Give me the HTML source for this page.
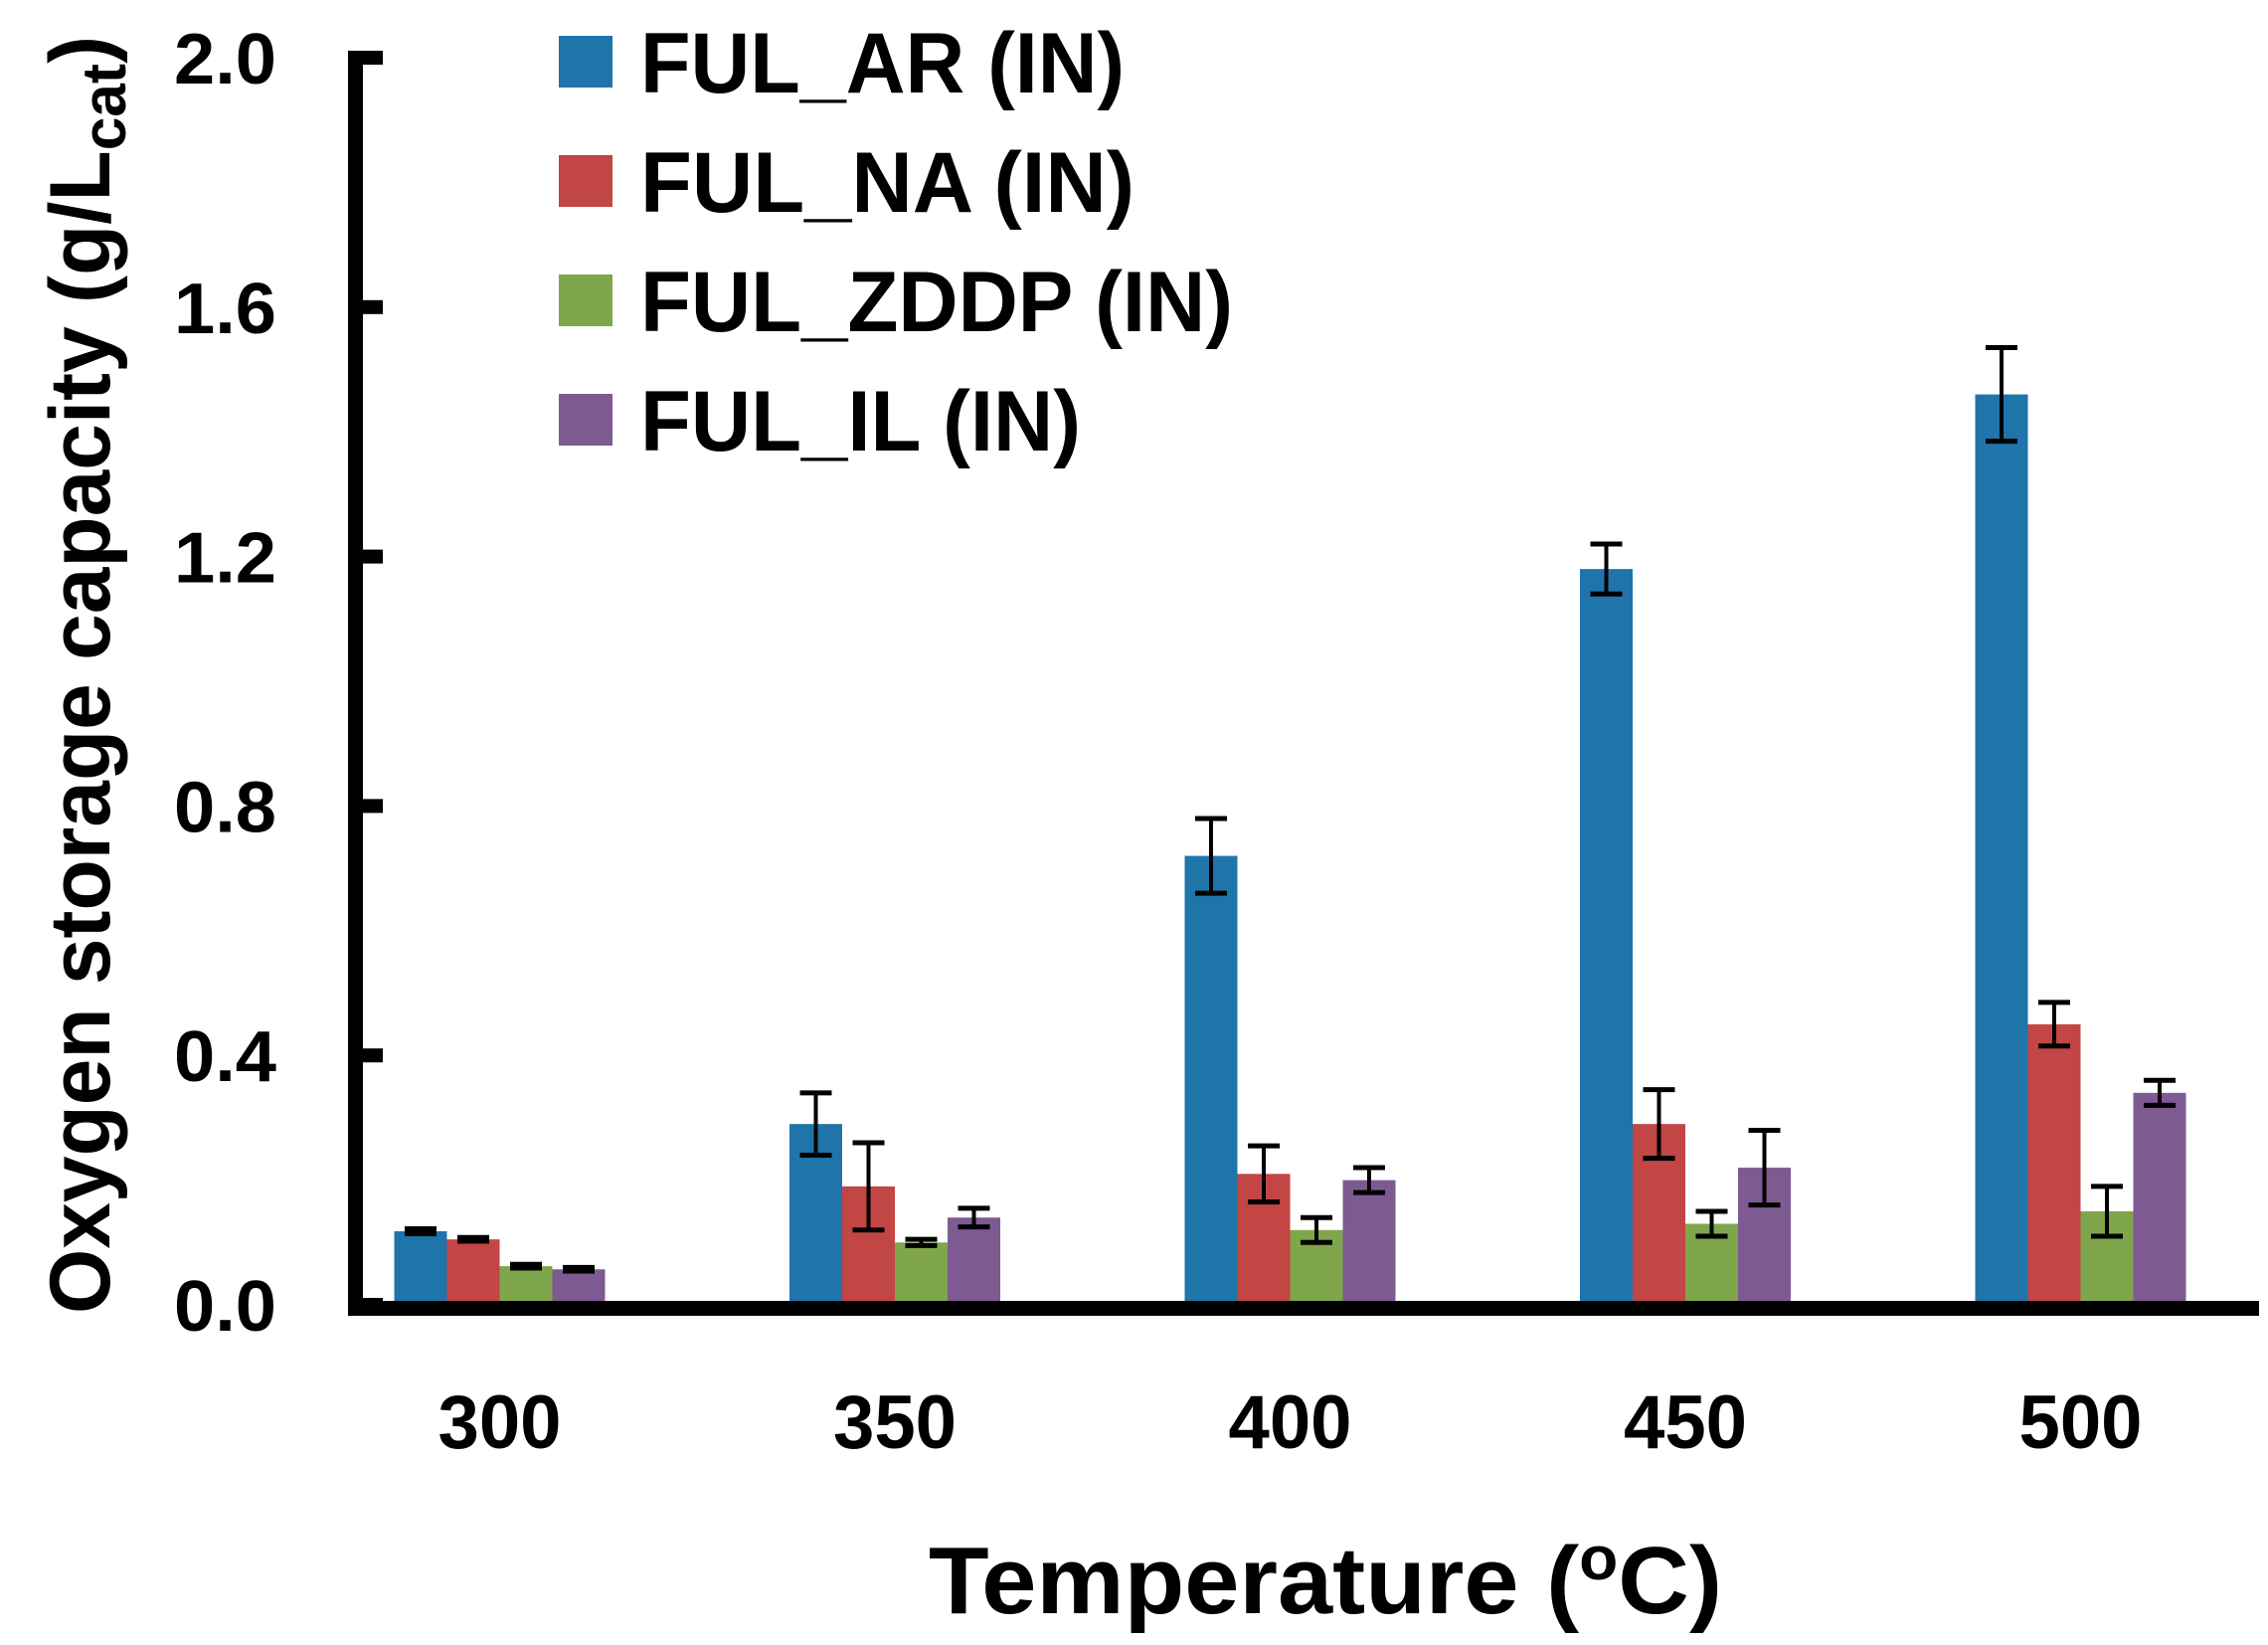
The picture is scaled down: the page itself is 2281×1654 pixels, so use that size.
<!DOCTYPE html>
<html><head><meta charset="utf-8"><style>
html,body{margin:0;padding:0;background:#fff;}
svg{display:block;font-family:"Liberation Sans",sans-serif;font-weight:bold;}
</style></head><body>
<svg id="chart" width="2281" height="1654" viewBox="0 0 2281 1654" xmlns="http://www.w3.org/2000/svg">
<g id="bars"></g>
<g id="axes"></g>
<g id="legend"></g>
<text x="1333" y="1622" font-size="96" text-anchor="middle" textLength="798" lengthAdjust="spacingAndGlyphs">Temperature (<tspan font-size="62" dy="-34">o</tspan><tspan dy="34">C)</tspan></text>
<text transform="translate(110,1321) rotate(-90)" x="0" y="0" font-size="86" textLength="1285" lengthAdjust="spacingAndGlyphs">Oxygen storage capacity (g/L<tspan font-size="62" dy="16">cat</tspan><tspan dy="-16">)</tspan></text>
</svg>
<script>
const categories = ["300","350","400","450","500"];
const seriesNames = ["FUL_AR (IN)","FUL_NA (IN)","FUL_ZDDP (IN)","FUL_IL (IN)"];
const arValues = [0.118,0.29,0.72,1.18,1.46];
const naValues = [0.105,0.19,0.21,0.29,0.45];
const zddpValues = [0.062,0.10,0.12,0.13,0.15];
const ilValues = [0.057,0.14,0.20,0.22,0.34];
const arErr = [0.004,0.05,0.06,0.04,0.075];
const naErr = [0.003,0.07,0.045,0.055,0.035];
const zddpErr = [0.003,0.005,0.02,0.02,0.04];
const ilErr = [0.003,0.015,0.02,0.06,0.02];
const yTicks = ["0.0","0.4","0.8","1.2","1.6","2.0"];

const NS="http://www.w3.org/2000/svg";
const colors=["#1f74aa","#c24644","#7fa64a","#7e5a93"];
const values=[arValues,naValues,zddpValues,ilValues];
const errs=[arErr,naErr,zddpErr,ilErr];
const zeroY=1312, unit=(1312-58)/2.0;
function y(v){return zeroY-v*unit;}
function groupCenter(i){return 502.5+i*397.5;}
const barW=53;
function mk(tag,attrs,parent){const e=document.createElementNS(NS,tag);for(const k in attrs)e.setAttribute(k,attrs[k]);parent.appendChild(e);return e;}
const bars=document.getElementById('bars');
for(let s=0;s<4;s++){
  for(let i=0;i<categories.length;i++){
    const x=groupCenter(i)+(s-2)*barW;
    const v=values[s][i], e=errs[s][i];
    const r=mk('rect',{x:x,y:y(v),width:barW,height:zeroY-y(v),fill:colors[s]},bars);
    
    
    const cx=x+barW/2, w=16;
    const g=mk('g',{stroke:'#000'},bars);
    
    
    mk('line',{x1:cx,x2:cx,y1:y(v+e),y2:y(v-e),'stroke-width':4},g);
    mk('line',{x1:cx-w,x2:cx+w,y1:y(v+e),y2:y(v+e),'stroke-width':5},g);
    mk('line',{x1:cx-w,x2:cx+w,y1:y(v-e),y2:y(v-e),'stroke-width':5},g);
  }
}
const axes=document.getElementById('axes');
const ya=mk('rect',{x:350,y:51,width:15,height:1272,fill:'#000'},axes);


const xa=mk('rect',{x:357,y:1308,width:1915,height:15,fill:'#000'},axes);


yTicks.forEach(t=>{
  const v=parseFloat(t), ty=y(v);
  const tk=mk('rect',{x:350,y:ty-7,width:35,height:14,fill:'#000'},axes);
  
  
  const lb=mk('text',{x:278,y:ty+26,'font-size':72,'text-anchor':'end',textLength:103,lengthAdjust:'spacingAndGlyphs'},axes);
  lb.textContent=t;
  
  
});
categories.forEach((c,i)=>{
  const lb=mk('text',{x:groupCenter(i),y:1456,'font-size':76,'text-anchor':'middle',textLength:124,lengthAdjust:'spacingAndGlyphs'},axes);
  lb.textContent=c;
  
  
});
const legend=document.getElementById('legend');
const legLens=[487,497,596,443];
seriesNames.forEach((n,s)=>{
  const ry=36+s*120;
  const g=mk('g',{},legend);
  
  
  const sw=mk('rect',{x:562,y:ry,width:54,height:52,fill:colors[s]},g);
  
  
  const t=mk('text',{x:644,y:ry+57,'font-size':86,textLength:legLens[s],lengthAdjust:'spacingAndGlyphs'},g);
  t.textContent=n;
  
  
});
</script>
</body></html>
